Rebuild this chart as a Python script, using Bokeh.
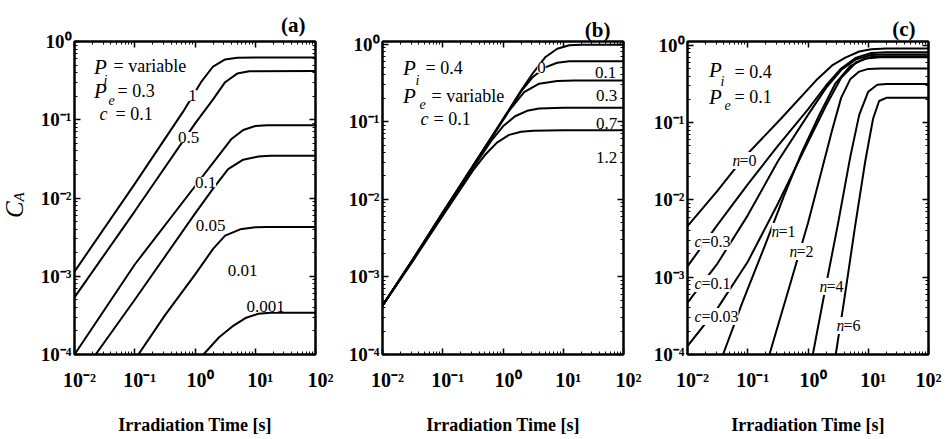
import numpy as np
from bokeh.plotting import figure
from bokeh.models import Range1d, LogAxis, FixedTicker, Label, Title
from bokeh.layouts import row
from bokeh.embed import file_html
from bokeh.resources import INLINE

# ---------------- data ----------------
x_tick_vals = [0.01, 0.1, 1, 10, 100]
x_tick_exps = ["-2", "-1", "0", "1", "2"]
y_tick_vals = [0.0001, 0.001, 0.01, 0.1, 1]
y_tick_exps = ["-4", "-3", "-2", "-1", "0"]

# panel (a): P_i variable
a_names = ["1", "0.5", "0.1", "0.05", "0.01", "0.001"]
a1_t = [0.01, 0.1, 0.631, 1.259, 1.995, 3.162, 5.012, 10, 100]
a1_c = [1.148e-3, 1.514e-2, 0.1259, 0.302, 0.479, 0.589, 0.621, 0.625, 0.625]
a2_t = [0.01, 0.1, 1, 1.995, 3.162, 5.012, 7.943, 100]
a2_c = [5.37e-4, 6.76e-3, 0.0891, 0.182, 0.302, 0.389, 0.417, 0.419]
a3_t = [0.01, 0.1, 1, 2.239, 3.981, 6.310, 10, 15.85, 100]
a3_c = [1e-4, 1.413e-3, 1.413e-2, 0.0316, 0.0562, 0.0741, 0.0832, 0.0851, 0.0851]
a4_t = [0.0224, 0.1, 1, 1.995, 3.548, 6.310, 11.22, 17.78, 100]
a4_c = [1e-4, 5.01e-4, 6.31e-3, 0.01318, 0.02344, 0.0309, 0.0339, 0.0347, 0.0347]
a5_t = [0.1148, 0.3162, 1, 1.995, 3.162, 5.623, 10, 15.85, 100]
a5_c = [1e-4, 3.16e-4, 1.047e-3, 2.239e-3, 3.311e-3, 3.981e-3, 4.217e-3, 4.266e-3, 4.266e-3]
a6_t = [1.380, 2.512, 4.365, 7.079, 11.22, 17.78, 100]
a6_c = [1e-4, 1.66e-4, 2.344e-4, 2.951e-4, 3.311e-4, 3.428e-4, 3.428e-4]

# panel (b): P_e variable
b_names = ["0", "0.1", "0.3", "0.7", "1.2"]
b1_t = [0.01, 0.03162, 0.1, 0.3162, 1, 1.995, 3.162, 5.012, 7.943, 12.59, 19.95, 100]
b1_c = [4.266e-4, 1.660e-3, 6.761e-3, 0.02692, 0.1072, 0.2512, 0.4266, 0.6761, 0.871, 0.965, 0.98, 0.98]
b2_t = [0.01, 0.03162, 0.1, 0.3162, 1, 1.995, 3.162, 5.012, 7.943, 12.59, 19.95, 100]
b2_c = [4.266e-4, 1.660e-3, 6.761e-3, 0.02692, 0.1072, 0.2455, 0.380, 0.501, 0.575, 0.600, 0.603, 0.603]
b3_t = [0.01, 0.03162, 0.1, 0.3162, 0.794, 1.259, 2.239, 3.981, 7.943, 15.85, 100]
b3_c = [4.266e-4, 1.660e-3, 6.761e-3, 0.02692, 0.0794, 0.138, 0.240, 0.309, 0.335, 0.339, 0.339]
b4_t = [0.01, 0.03162, 0.1, 0.3162, 0.631, 1, 1.585, 2.512, 3.981, 10, 100]
b4_c = [4.266e-4, 1.622e-3, 6.457e-3, 0.02512, 0.0562, 0.0871, 0.1175, 0.138, 0.1479, 0.1514, 0.1514]
b5_t = [0.01, 0.03162, 0.1, 0.3162, 0.501, 0.794, 1.259, 1.995, 3.162, 10, 100]
b5_c = [4.266e-4, 1.585e-3, 6.166e-3, 0.02344, 0.03715, 0.0537, 0.0676, 0.0741, 0.0767, 0.0776, 0.0776]

# panel (c): n and c variable
c1_t = [0.01, 0.0316, 0.0813, 0.3548, 1.380, 2.512, 4.169, 7.079, 11.22, 19.95, 100]   # n=0
c1_c = [4.571e-3, 0.01318, 0.0335, 0.1122, 0.3548, 0.5495, 0.6918, 0.8318, 0.8913, 0.912, 0.912]
c2_t = [0.01, 0.0316, 0.1, 0.3162, 1, 1.995, 3.548, 6.310, 11.22, 19.95, 100]          # c=0.3
c2_c = [1.380e-3, 4.786e-3, 0.01585, 0.0501, 0.1479, 0.302, 0.501, 0.692, 0.794, 0.813, 0.813]
c3_t = [0.01, 0.0316, 0.1, 0.3162, 1, 1.995, 3.548, 6.310, 11.22, 19.95, 100]          # c=0.1
c3_c = [4.677e-4, 1.514e-3, 6.310e-3, 0.0316, 0.1259, 0.2818, 0.4786, 0.661, 0.750, 0.759, 0.759]
c4_t = [0.01, 0.0316, 0.1, 0.3162, 1, 1.995, 3.548, 6.310, 11.22, 19.95, 100]          # c=0.03
c4_c = [1.288e-4, 3.981e-4, 1.585e-3, 8.913e-3, 0.0562, 0.166, 0.380, 0.603, 0.708, 0.724, 0.724]
c5_t = [0.0389, 0.0813, 0.1905, 0.398, 0.794, 1.585, 2.818, 5.012, 8.913, 15.85, 100]  # n=1
c5_c = [1e-4, 4.677e-4, 2.512e-3, 0.01122, 0.0417, 0.1318, 0.3162, 0.537, 0.676, 0.700, 0.700]
c6_t = [0.229, 0.501, 1, 1.585, 2.512, 3.548, 5.012, 7.079, 10, 15.85, 100]            # n=2
c6_c = [1e-4, 7.943e-4, 5.012e-3, 0.01995, 0.0794, 0.2089, 0.363, 0.457, 0.4955, 0.501, 0.501]
c7_t = [1.202, 1.995, 3.162, 5.012, 7.079, 10, 14.13, 19.95, 100]                      # n=4
c7_c = [1e-4, 7.943e-4, 5.012e-3, 0.0355, 0.1259, 0.2512, 0.309, 0.316, 0.316]
c8_t = [2.884, 3.981, 6.026, 8.913, 12.02, 15.14, 19.95, 100]                           # n=6
c8_c = [1e-4, 5.012e-4, 4.467e-3, 0.0316, 0.1122, 0.1905, 0.2089, 0.2089]

# ---------------- styling helpers ----------------
FONT = "Liberation Serif"
H = 439
SUP = str.maketrans("-0123456789", "\u207b\u2070\u00b9\u00b2\u00b3\u2074\u2075\u2076\u2077\u2078\u2079")
FIG_SP = "\u2007"


def lab(p, dx, dy, text, size, style="normal", align="left", bg=False):
    l = Label(x=p.x_range.start, y=p.y_range.end, x_offset=dx, y_offset=-dy,
              text=text, text_font=FONT, text_font_size=f"{size}px",
              text_font_style=style, text_align=align, text_baseline="middle",
              text_color="black")
    if bg:
        l.background_fill_color = "white"
        l.background_fill_alpha = 1.0
    p.add_layout(l)


minor_x = [m * 10.0 ** k for k in range(-2, 2) for m in range(2, 10)]
minor_y = [m * 10.0 ** k for k in range(-4, 1) for m in range(2, 10)]


def make_fig(w, bl, br, bt, bb, ytop, title, title_off, title_standoff, pad_last=True):
    p = figure(width=w, height=H, x_axis_type="log", y_axis_type="log",
               x_range=Range1d(0.01, 100), y_range=Range1d(1e-4, ytop),
               output_backend="svg", toolbar_location=None, title=None,
               min_border_left=bl, min_border_right=br,
               min_border_top=bt, min_border_bottom=bb)
    p.add_layout(LogAxis(), "right")
    p.add_layout(LogAxis(), "above")
    p.grid.visible = False
    p.outline_line_color = "black"
    p.outline_line_width = 2
    p.background_fill_color = "white"
    p.border_fill_color = "white"
    for ax in p.xaxis:
        ax.ticker = FixedTicker(ticks=x_tick_vals, minor_ticks=minor_x)
    for ax in p.yaxis:
        ax.ticker = FixedTicker(ticks=y_tick_vals, minor_ticks=minor_y)
    for ax in p.axis:
        ax.major_label_text_font_size = "1px"
        ax.major_label_text_alpha = 0.0
        ax.major_label_standoff = 0
        ax.major_tick_in = 6
        ax.major_tick_out = 0
        ax.minor_tick_in = 3
        ax.minor_tick_out = 0
        ax.axis_line_width = 2
        ax.axis_line_color = "black"
        ax.major_tick_line_color = "black"
        ax.minor_tick_line_color = "black"
        ax.major_tick_line_width = 1.5
        ax.minor_tick_line_width = 1
    # visible tick labels: bold "10" with superscript exponent
    xb = p.below[0]
    xov = {}
    for i, (v, e) in enumerate(zip(x_tick_vals, x_tick_exps)):
        pad = FIG_SP if (pad_last or i < len(x_tick_vals) - 1) else ""
        xov[v] = pad + "10" + e.translate(SUP)
    xb.major_label_overrides = xov
    xb.major_label_text_font_size = "20px"
    xb.major_label_text_alpha = 1.0
    xb.major_label_text_color = "black"
    xb.major_label_text_font = FONT
    xb.major_label_text_font_style = "bold"
    xb.major_label_standoff = 14
    xb.axis_label = "Irradiation Time [s]"
    xb.axis_label_text_font = FONT
    xb.axis_label_text_font_size = "18px"
    xb.axis_label_text_font_style = "bold"
    xb.axis_label_text_color = "black"
    xb.axis_label_standoff = 21
    yl = p.left[0]
    yl.major_label_overrides = {v: "10" + e.translate(SUP) for v, e in zip(y_tick_vals, y_tick_exps)}
    yl.major_label_text_font_size = "19px"
    yl.major_label_text_alpha = 1.0
    yl.major_label_text_color = "black"
    yl.major_label_text_font = FONT
    yl.major_label_text_font_style = "bold"
    yl.major_label_standoff = 3
    t = Title(text=title, align="right", offset=title_off, standoff=title_standoff,
              text_font=FONT, text_font_size="21px", text_font_style="bold", text_color="black")
    p.add_layout(t, "above")
    return p


def curve(p, t, c):
    p.line(t, c, line_color="black", line_width=2)


# ---------------- y-axis title C_A (its own narrow plot) ----------------
py = figure(width=34, height=H, x_range=Range1d(0, 34), y_range=Range1d(H, 0),
            output_backend="svg", toolbar_location=None, title=None,
            x_axis_location=None, y_axis_location=None, min_border=0)
py.grid.visible = False
py.outline_line_color = None
py.add_layout(Label(x=14, y=236, text="C", text_font=FONT, text_font_size="25px",
                    text_font_style="italic", text_align="center", text_baseline="middle",
                    text_color="black", angle=np.pi / 2))
py.add_layout(Label(x=18, y=218, text="A", text_font=FONT, text_font_size="15px",
                    text_font_style="italic", text_align="center", text_baseline="middle",
                    text_color="black", angle=np.pi / 2))

# ---------------- panel (a) ----------------
pa = make_fig(311, 40, 30, 41, 84, 1.0, "(a)", 10, 9)
for t, c in [(a1_t, a1_c), (a2_t, a2_c), (a3_t, a3_c), (a4_t, a4_c), (a5_t, a5_c), (a6_t, a6_c)]:
    curve(pa, t, c)
for name, (dx, dy) in zip(a_names, [(118, 54), (114, 96), (131, 141), (136, 184), (168, 229), (191, 265)]):
    lab(pa, dx, dy, name, 17, "normal", "center", bg=True)
lab(pa, 26, 25, "P", 21, "italic", "center")
lab(pa, 31, 39, "i", 14, "italic", "center")
lab(pa, 39, 24, "= variable", 18)
lab(pa, 26, 49, "P", 21, "italic", "center")
lab(pa, 37, 58, "e", 14, "italic", "center")
lab(pa, 43, 49, "= 0.3", 18)
lab(pa, 29, 72, "c", 18, "italic", "center")
lab(pa, 41, 72, "= 0.1", 18)

# ---------------- panel (b) ----------------
pb = make_fig(305, 29, 27, 31, 85, 1.08, "(b)", 13, 0)
for t, c in [(b1_t, b1_c), (b2_t, b2_c), (b3_t, b3_c), (b4_t, b4_c), (b5_t, b5_c)]:
    curve(pb, t, c)
for name, (dx, dy) in zip(b_names, [(159, 26), (223, 31), (224, 54), (224, 82), (224, 116)]):
    lab(pb, dx, dy, name, 17, "normal", "center", bg=True)
lab(pb, 27, 26, "P", 21, "italic", "center")
lab(pb, 35, 39, "i", 14, "italic", "center")
lab(pb, 43, 26, "= 0.4", 18)
lab(pb, 27, 54, "P", 21, "italic", "center")
lab(pb, 40, 62, "e", 14, "italic", "center")
lab(pb, 49, 54, "= variable", 18)
lab(pb, 42, 77, "c", 18, "italic", "center")
lab(pb, 51, 77, "= 0.1", 18)

# ---------------- panel (c) ----------------
pc = make_fig(295, 28, 17, 33, 85, 1.12, "(c)", 13, 1, pad_last=False)
for t, c in [(c1_t, c1_c), (c2_t, c2_c), (c3_t, c3_c), (c4_t, c4_c),
             (c5_t, c5_c), (c6_t, c6_c), (c7_t, c7_c), (c8_t, c8_c)]:
    curve(pc, t, c)
for it, rest, dx, dy in [("n", "=0", 45, 119), ("c", "=0.3", 7, 200), ("c", "=0.1", 7, 242),
                         ("c", "=0.03", 7, 275), ("n", "=1", 84, 190), ("n", "=2", 102, 210),
                         ("n", "=4", 132, 245), ("n", "=6", 149, 284)]:
    lab(pc, dx, dy, it, 16, "italic", "left", bg=True)
    lab(pc, dx + 7, dy, rest, 16, "normal", "left", bg=True)
lab(pc, 28, 28, "P", 21, "italic", "center")
lab(pc, 35, 40, "i", 14, "italic", "center")
lab(pc, 47, 30, "= 0.4", 18)
lab(pc, 28, 55, "P", 21, "italic", "center")
lab(pc, 40, 63, "e", 14, "italic", "center")
lab(pc, 47, 55, "= 0.1", 18)

layout = row(py, pa, pb, pc)
open("out.html", "w").write(file_html(layout, INLINE))
